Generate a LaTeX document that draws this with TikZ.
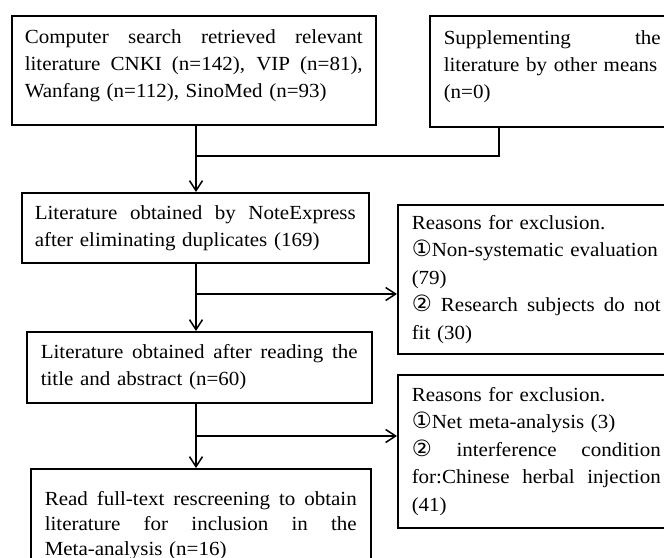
\documentclass[tikz,border=0pt]{standalone}
\usepackage{fontspec}
\setmainfont{Liberation Serif}[FakeStretch=1.05]
\newfontfamily\circfont{DejaVu Sans}[Scale=1.12]
\usetikzlibrary{arrows.meta}
\newcommand{\jline}[1]{\makebox[\hsize][s]{\spaceskip=0pt\xspaceskip=0pt #1}}
\newcommand{\cone}{{\circfont ①}}
\newcommand{\ctwo}{{\circfont ②}}
\newcommand{\lowstrut}{\rule[-13pt]{0pt}{13pt}}

\begin{document}
\begin{tikzpicture}[x=1pt,y=-1pt,
  box/.style={draw,line width=1.5pt,anchor=north west,align=left,inner ysep=2pt,
    font=\fontsize{20}{27}\selectfont},
  reasonbox/.style={box,font=\fontsize{20}{27.5}\selectfont},
  flow/.style={line width=1.5pt,-{Straight Barb[length=10pt,width=13pt]}}]
\useasboundingbox (0,0) rectangle (664,557);
\clip (0,0) rectangle (664,557);
%top row
\node[box,text width=338pt,inner xsep=13pt,minimum height=109pt] (search) at (11,15)
  {\jline{Computer search retrieved relevant}\\
   \jline{literature CNKI (n=142), VIP (n=81),}\\
   Wanfang (n=112), SinoMed (n=93)\lowstrut};
\node[box,text width=217pt,inner xsep=14pt,minimum height=111pt] (other) at (429,15)
  {\jline{Supplementing the}\\
   literature by other means\\
   (n=0)\lowstrut};
%main column
\node[box,text width=321pt,inner xsep=13pt,minimum height=70pt] (dedup) at (21,192)
  {\jline{Literature obtained by NoteExpress}\\
   after eliminating duplicates (169)};
\node[box,text width=317pt,inner xsep=14pt,minimum height=71pt] (title) at (26,331)
  {\jline{Literature obtained after reading the}\\
   title and abstract (n=60)};
\node[box,text width=312pt,inner xsep=14pt,minimum height=114pt,
  font=\fontsize{20}{25}\selectfont] (fulltext) at (30,468)
  {\jline{Read full-text rescreening to obtain}\\
   \jline{literature for inclusion in the}\\
   Meta-analysis (n=16)};
%exclusion boxes
\node[reasonbox,text width=249pt,inner xsep=14pt,minimum height=149pt] (excl1) at (397,204)
  {Reasons for exclusion.\\
   \cone Non-systematic evaluation\\
   (79)\\
   \jline{\ctwo{} Research subjects do not}\\
   fit (30)};
\node[reasonbox,text width=249pt,inner xsep=14pt,minimum height=153pt] (excl2) at (397,374)
  {Reasons for exclusion.\\
   \cone Net meta-analysis (3)\\
   \jline{\ctwo{} interference condition}\\
   \jline{for:Chinese herbal injection}\\
   (41)};
%connectors
\coordinate (merge) at (196,156);
\coordinate (otherdrop) at (499,156);
\coordinate (split1) at (196,294);
\coordinate (split2) at (196,436);
\draw[line width=1.5pt] (search.south -| merge) -- (merge);
\draw[line width=1.5pt] (other.south -| otherdrop) -- (otherdrop) -- (merge);
\draw[flow] (merge) -- (merge |- dedup.north);
\draw[flow] (dedup.south -| split1) -- (split1 |- title.north);
\draw[flow] (split1) -- (split1 -| excl1.west);
\draw[flow] (title.south -| split2) -- (split2 |- fulltext.north);
\draw[flow] (split2) -- (split2 -| excl2.west);
\end{tikzpicture}
\end{document}
